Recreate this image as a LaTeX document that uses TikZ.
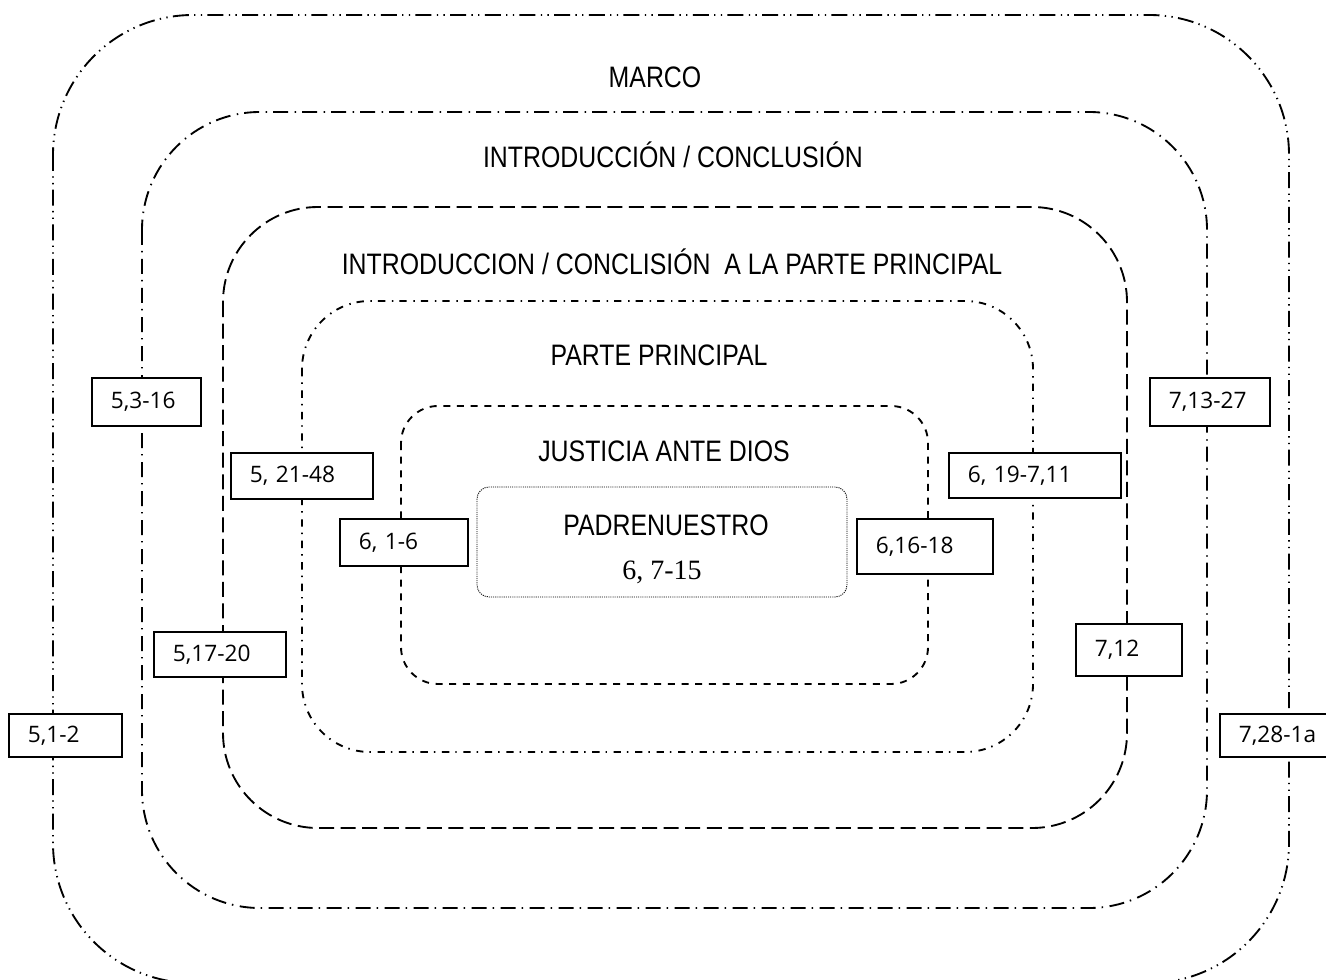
\documentclass[tikz,border=0pt]{standalone}
\usepackage{fontspec}
\setmainfont{Liberation Sans}
\newfontfamily\titlefont{Liberation Sans}[FakeStretch=0.84]
\newfontfamily\lblfont{Open Sans}
\newfontfamily\numfont{Liberation Serif}
\tikzset{
  ring/.style={line width=1.4pt},
  marcoline/.style={ring, dash pattern=on 12pt off 4pt on 1pt off 4pt on 1pt off 4pt},
  introline/.style={ring, dash pattern=on 11.25pt off 4.5pt on 1.1pt off 4.9pt},
  ipline/.style={ring, dash pattern=on 11.25pt off 4.9pt},
  ppline/.style={ring, dash pattern=on 5.5pt off 4.5pt on 1.1pt off 5pt},
  jdline/.style={ring, dash pattern=on 5.25pt off 5pt},
  pnline/.style={line width=0.7pt, dash pattern=on 0.8pt off 0.8pt},
  title/.style={inner sep=0pt, font=\titlefont\fontsize{22.2}{26}\selectfont},
  lbl/.style={draw, line width=1.2pt, fill=white, inner xsep=14.25pt, inner ysep=0pt,
              align=left, font=\lblfont\fontsize{17}{20}\selectfont},
}
\newcommand\lblbox[6]{%
  \pgfmathsetmacro\lbw{(#4-#2)*0.75}%
  \pgfmathsetmacro\lbh{(#5-#3)*0.75}%
  \pgfmathsetmacro\lbt{(#4-#2-38)*0.75}%
  \node[lbl, minimum width=\lbw pt, minimum height=\lbh pt, text width=\lbt pt, anchor=north west] (#1) at (#2,#3) {#6};}
\begin{document}
\begin{tikzpicture}[x=0.75pt, y=-0.75pt]
\useasboundingbox (0,0) rectangle (1326,980);
\clip (0,0) rectangle (1326,980);
\fill[white] (0,0) rectangle (1326,980);
% nested frames
\draw[marcoline, rounded corners=105pt] (53,15) rectangle (1289,983);
\draw[introline, rounded corners=88.5pt] (142,112) rectangle (1207,908);
\draw[ipline, rounded corners=71.25pt] (223,207) rectangle (1127,828);
\draw[ppline, rounded corners=51pt] (302,301) rectangle (1033,752);
\draw[jdline, rounded corners=27.75pt] (401,406) rectangle (928,684);
\draw[pnline, rounded corners=9pt] (477,487) rectangle (847,597);
% titles
\node[title] (marco) at (655,77) {MARCO};
\node[title] (intro) at (673,155) {INTRODUCCIÓN / CONCLUSIÓN};
\node[title] (introp) at (672,262) {INTRODUCCION / CONCLISIÓN\ \ A LA PARTE PRINCIPAL};
\node[title] (parte) at (659,355) {PARTE PRINCIPAL};
\node[title] (just) at (664,451) {JUSTICIA ANTE DIOS};
\node[title] (padre) at (666,525) {PADRENUESTRO};
\node[inner sep=0pt, font=\numfont\fontsize{21}{25}\selectfont] (padrenum) at (662,572) {6, 7-15};
% labels
\lblbox{l1}{91}{377}{200}{425}{5,3-16}
\lblbox{l2}{230}{452}{372}{498}{5, 21-48}
\lblbox{l3}{339}{518}{467}{565}{6, 1-6}
\lblbox{l4}{153}{631}{285}{676}{5,17-20}
\lblbox{l5}{8}{713}{121}{756}{5,1-2}
\lblbox{r1}{1149}{377}{1269}{425}{7,13-27}
\lblbox{r2}{948}{452}{1120}{497}{6, 19-7,11}
\lblbox{r3}{856}{518}{992}{573}{6,16-18}
\lblbox{r4}{1075}{623}{1181}{675}{7,12}
\lblbox{r5}{1219}{713}{1335}{756}{7,28-1a}
\end{tikzpicture}
\end{document}
